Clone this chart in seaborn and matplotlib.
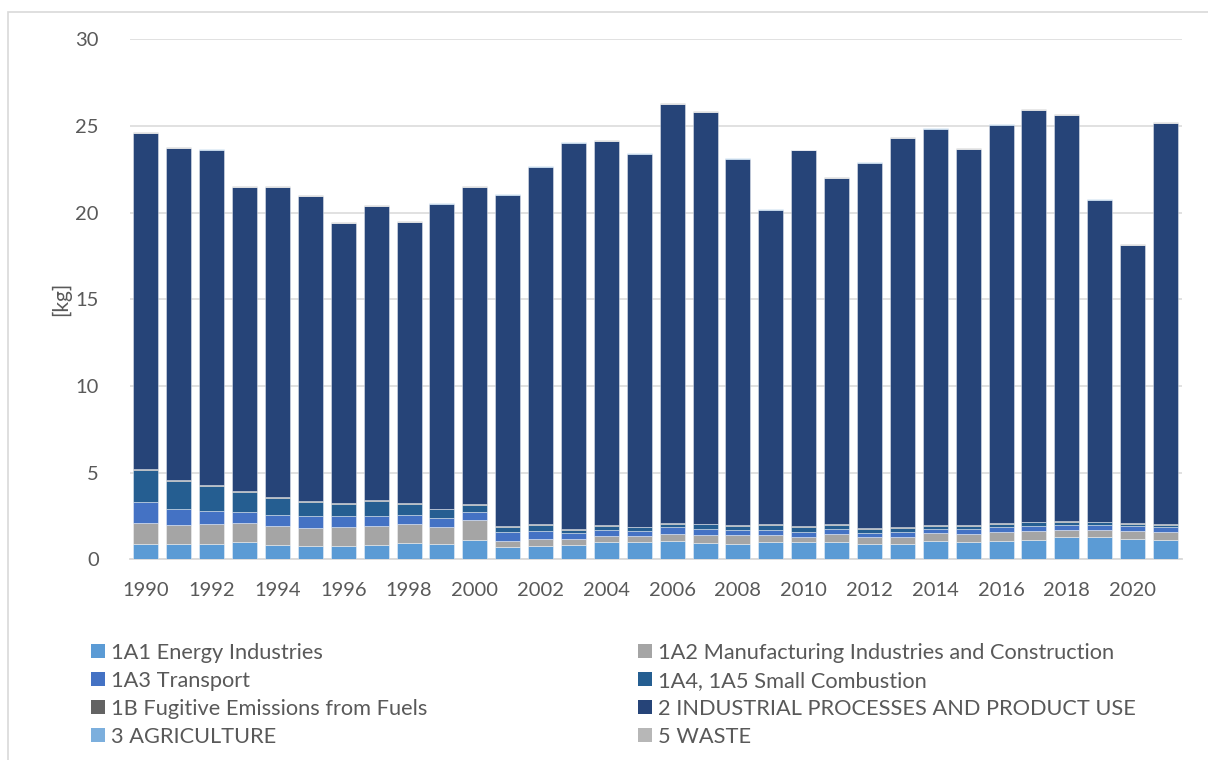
import matplotlib
matplotlib.use("Agg")
import matplotlib.pyplot as plt
import matplotlib.patches as mpatches
import seaborn as sns

# data (kg)
years = [str(y) for y in range(1990, 2022)]
e_1a1 = [0.89, 0.89, 0.91, 0.97, 0.85, 0.79, 0.77, 0.85, 0.93, 0.91, 1.10, 0.70, 0.79, 0.85, 0.99, 0.97,
         1.05, 0.93, 0.91, 0.99, 0.97, 1.02, 0.91, 0.91, 1.08, 0.99, 1.08, 1.14, 1.26, 1.26, 1.18, 1.14]
e_1a2 = [1.22, 1.10, 1.14, 1.10, 1.10, 1.03, 1.11, 1.05, 1.10, 0.97, 1.14, 0.36, 0.39, 0.31, 0.36, 0.38,
         0.42, 0.48, 0.49, 0.42, 0.33, 0.45, 0.35, 0.39, 0.41, 0.46, 0.47, 0.51, 0.44, 0.43, 0.47, 0.45]
e_1a3 = [1.20, 0.91, 0.76, 0.68, 0.61, 0.68, 0.62, 0.60, 0.55, 0.50, 0.49, 0.51, 0.45, 0.37, 0.35, 0.30,
         0.41, 0.33, 0.29, 0.28, 0.27, 0.25, 0.26, 0.29, 0.25, 0.29, 0.29, 0.29, 0.28, 0.29, 0.29, 0.27]
e_1a4 = [1.86, 1.63, 1.43, 1.15, 0.99, 0.81, 0.70, 0.87, 0.62, 0.52, 0.41, 0.31, 0.36, 0.16, 0.24, 0.21,
         0.17, 0.29, 0.25, 0.30, 0.31, 0.27, 0.24, 0.23, 0.20, 0.20, 0.21, 0.19, 0.19, 0.15, 0.11, 0.13]
e_1b = [0.03] * 32
e_ippu = [19.40, 19.18, 19.37, 17.56, 17.91, 17.61, 16.17, 16.98, 16.22, 17.60, 18.30, 19.14, 20.64, 22.33,
          22.16, 21.52, 24.18, 23.74, 21.14, 18.16, 21.68, 19.97, 21.09, 22.45, 22.88, 21.71, 22.99, 23.76,
          23.43, 18.60, 16.06, 23.15]
e_agri = [0.02] * 32
e_waste = [0.03] * 32

labels = ["1A1 Energy Industries", "1A2 Manufacturing Industries and Construction",
          "1A3 Transport", "1A4, 1A5 Small Combustion",
          "1B Fugitive Emissions from Fuels", "2 INDUSTRIAL PROCESSES AND PRODUCT USE",
          "3 AGRICULTURE", "5 WASTE"]
series = [e_1a1, e_1a2, e_1a3, e_1a4, e_1b, e_ippu, e_agri, e_waste]
colors = ["#5B9BD5", "#A5A5A5", "#4472C4", "#255E91", "#636363", "#264478", "#7CAFDD", "#B7B7B7"]

sns.set_theme(style="white")
plt.rcParams["font.family"] = ["Lato", "DejaVu Sans"]
txt = "#595959"

fig = plt.figure(figsize=(12.08, 7.6), dpi=100)
ax = fig.add_axes([129.5 / 1208, 1 - 559.3 / 760, (1182 - 129.5) / 1208, (559.3 - 39.4) / 760])

bottom = [0.0] * 32
for vals, col in zip(series, colors):
    sns.barplot(x=years, y=vals, bottom=bottom, color=col, saturation=1, width=0.76,
                edgecolor=(1, 1, 1, 0.4), linewidth=0.7, ax=ax, zorder=3)
    bottom = [b + v for b, v in zip(bottom, vals)]

ax.set_xlim(-0.5, 31.5)
ax.set_ylim(0, 30)
ax.set_yticks(range(0, 31, 5))
ax.set_xticks(range(0, 32, 2))
ax.set_xticklabels(years[::2])
ax.yaxis.grid(True, color="#D9D9D9", lw=1.1, zorder=0)
ax.set_axisbelow(True)
for s in ["left", "right", "top"]:
    ax.spines[s].set_visible(False)
ax.spines["bottom"].set_color("#D9D9D9")
ax.spines["bottom"].set_linewidth(1.3)
ax.tick_params(axis="both", length=0, labelsize=14.5, colors=txt)
ax.tick_params(axis="y", pad=22)
ax.tick_params(axis="x", pad=16)
ax.set_xlabel("")
ax.set_ylabel("[kg]", fontsize=15, color=txt, labelpad=3)

# chart frame
fig.patches.append(mpatches.Rectangle((8 / 1208, -0.1), 1.2, (760 - 12) / 760 + 0.1,
                                      transform=fig.transFigure, fill=False,
                                      edgecolor="#D9D9D9", lw=1.2))

# legend, two columns
handles = [mpatches.Patch(facecolor=c, edgecolor="none", label=l) for c, l in zip(colors, labels)]
lkw = dict(frameon=False, fontsize=15.7, handlelength=0.62, handleheight=0.62,
           handletextpad=0.3, labelspacing=0.36, labelcolor=txt, borderaxespad=0, borderpad=0)
leg1 = fig.legend(handles=handles[0::2], loc="upper left", bbox_to_anchor=(91 / 1208, 1 - 643 / 760), **lkw)
leg2 = fig.legend(handles=handles[1::2], loc="upper left", bbox_to_anchor=(638 / 1208, 1 - 643 / 760), **lkw)

fig.savefig("out.png", dpi=100)
